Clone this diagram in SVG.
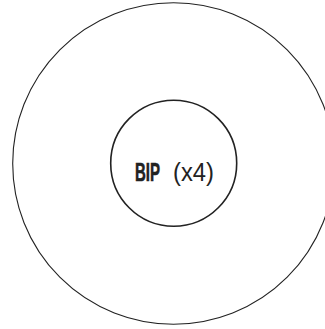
<svg xmlns="http://www.w3.org/2000/svg" width="325" height="329" viewBox="0 0 325 329">
<style>
.ring{fill:none;stroke:#222;}
.lbl{font-family:"Liberation Sans",Arial,sans-serif;font-size:25px;fill:#222;}
</style>
<rect width="325" height="329" fill="#fff"/>
<g id="outer">
<circle class="ring" cx="173.5" cy="163.5" r="160.8" stroke-width="1.1"/>
</g>
<g id="bip">
<circle class="ring" cx="173.7" cy="163.2" r="63" stroke-width="1.6"/>
<text class="lbl" x="135" y="180.5" font-weight="bold" stroke="#222" stroke-width="0.6" textLength="25" lengthAdjust="spacingAndGlyphs">BIP</text>
<text class="lbl" x="173" y="180.5" textLength="41" lengthAdjust="spacingAndGlyphs">(x4)</text>
</g>
</svg>
